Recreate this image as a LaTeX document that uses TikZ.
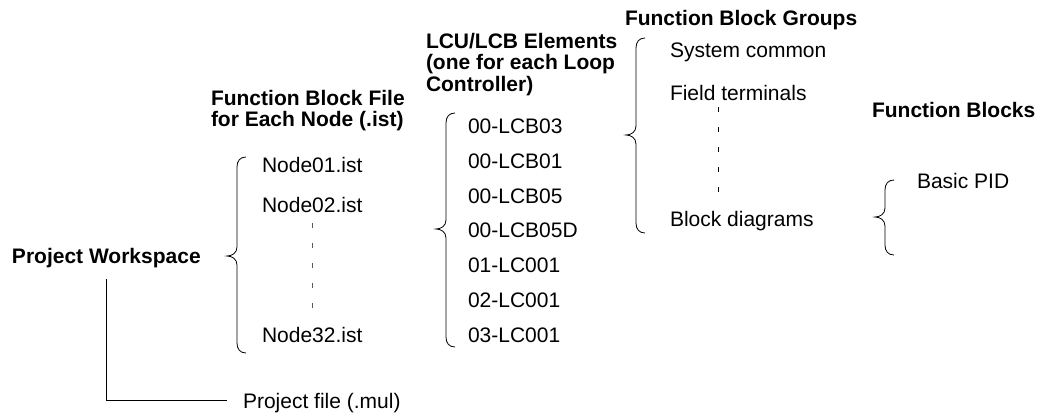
\documentclass[tikz,border=0pt]{standalone}
\usepackage{fontspec}
\setmainfont{Liberation Sans}
\newcommand{\mybrace}[4]{%
  \draw[bracel] ({#1+9},#2) .. controls ({#1+3},#2) and (#1,{#2+4}) .. (#1,{#2+10})
    -- (#1,{#3-9}) .. controls (#1,{#3-3}) and ({#1-5},#3) .. ({#1-10},#3)
    .. controls ({#1-5},#3) and (#1,{#3+3}) .. (#1,{#3+9})
    -- (#1,{#4-10}) .. controls (#1,{#4-4}) and ({#1+3},#4) .. ({#1+9},#4);}
\begin{document}
\begin{tikzpicture}[x=1pt,y=-1pt,
  every node/.style={inner sep=0pt, outer sep=0pt},
  lbl/.style={font=\fontsize{21}{21}\selectfont, anchor=base west},
  head/.style={font=\fontsize{21}{21}\selectfont\bfseries, anchor=base west},
  headml/.style={font=\fontsize{21}{21.5}\selectfont\bfseries, align=left, anchor=north west},
  bracel/.style={line width=0.8pt},
  conn/.style={line width=0.8pt},
  dashline/.style={line width=0.8pt, dash pattern=on 5pt off 15pt}]
\useasboundingbox (0,0) rectangle (1037,415);

% headers
\node[head] (hgroups) at (625,25) {Function Block Groups};
\node[headml] (hlcu) at (426,33) {LCU/LCB Elements\\(one for each Loop\\Controller)};
\node[headml] (hfile) at (211,90) {Function Block File\\for Each Node (.ist)};
\node[head] (hblocks) at (872,117) {Function Blocks};
\node[head] (pw) at (12,263) {Project Workspace};

% node files
\node[lbl] (n01) at (262,172) {Node01.ist};
\node[lbl] (n02) at (262,212) {Node02.ist};
\node[lbl] (n32) at (262,342) {Node32.ist};
\draw[dashline, black!65] ([yshift=-11pt]n02.south) -- ([yshift=19pt]n32.north);
\mybrace{237}{157}{256}{353}

% LCU elements
\node[lbl] (l1) at (468,133) {00-LCB03};
\node[lbl] (l2) at (468,168) {00-LCB01};
\node[lbl] (l3) at (468,203) {00-LCB05};
\node[lbl] (l4) at (468,237) {00-LCB05D};
\node[lbl] (l5) at (468,272) {01-LC001};
\node[lbl] (l6) at (468,307) {02-LC001};
\node[lbl] (l7) at (468,342) {03-LC001};
\mybrace{446}{113}{229}{347}

% function block groups
\node[lbl] (g1) at (670,57) {System common};
\node[lbl] (g2) at (670,100) {Field terminals};
\node[lbl] (g3) at (670,226) {Block diagrams};
\coordinate (gd1) at (718,107);
\coordinate (gd2) at (718,194);
\draw[dashline] (gd1) -- (gd2);
\mybrace{636}{38}{135}{233}

% function blocks
\node[lbl] (pid) at (917,188) {Basic PID};
\mybrace{885}{180}{217}{255}

% project file
\node[lbl] (pf) at (243,408) {Project file (.mul)};
\coordinate (pfend) at (227,400);
\draw[conn] ([yshift=-12pt]pw.south) |- (pfend);
\end{tikzpicture}
\end{document}
